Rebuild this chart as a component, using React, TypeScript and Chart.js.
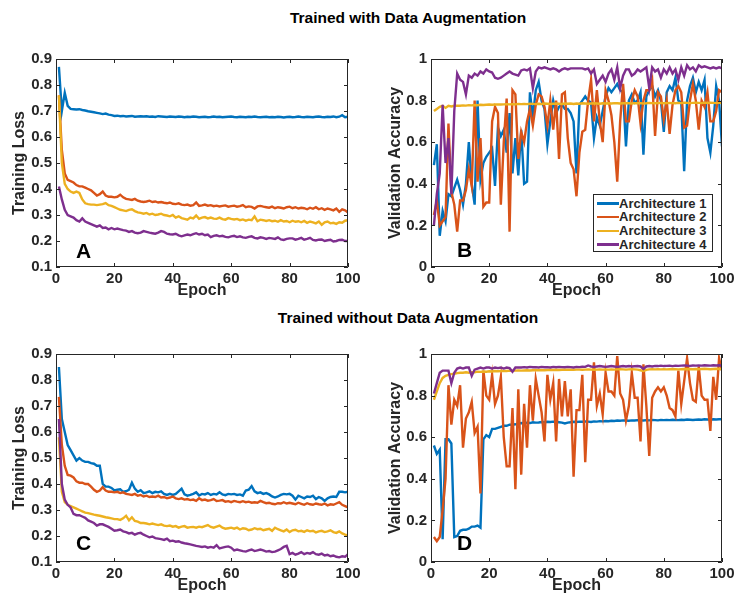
import React, { useEffect, useRef } from "react";
import { Chart, registerables } from "chart.js";

Chart.register(...registerables);

const FONT = "'Liberation Sans', Arial, Helvetica, sans-serif";
const INK = "#262626";

const NAMES = ["Architecture 1", "Architecture 2", "Architecture 3", "Architecture 4"];
const COLORS = ["#0072BD", "#D95319", "#EDB120", "#7E2F8E"];

const EPOCHS = [
  1, 2, 3, 4, 5, 6, 7, 8, 9, 10, 11, 12, 13, 14, 15, 16, 17, 18, 19, 20,
  21, 22, 23, 24, 25, 26, 27, 28, 29, 30, 31, 32, 33, 34, 35, 36, 37, 38, 39, 40,
  41, 42, 43, 44, 45, 46, 47, 48, 49, 50, 51, 52, 53, 54, 55, 56, 57, 58, 59, 60,
  61, 62, 63, 64, 65, 66, 67, 68, 69, 70, 71, 72, 73, 74, 75, 76, 77, 78, 79, 80,
  81, 82, 83, 84, 85, 86, 87, 88, 89, 90, 91, 92, 93, 94, 95, 96, 97, 98, 99, 100,
];

const X_TICKS = [0, 20, 40, 60, 80, 100];
const LOSS_TICKS = [0.1, 0.2, 0.3, 0.4, 0.5, 0.6, 0.7, 0.8, 0.9];
const ACC_TICKS = [0, 0.2, 0.4, 0.6, 0.8, 1];

// ---- Panel A: training loss, with augmentation ----
const lossAug1 = [
  0.87, 0.70, 0.77, 0.72, 0.708, 0.707, 0.706, 0.707, 0.704, 0.702,
  0.699, 0.697, 0.695, 0.693, 0.691, 0.688, 0.690, 0.686, 0.684, 0.681,
  0.682, 0.680, 0.681, 0.679, 0.680, 0.681, 0.678, 0.679, 0.680, 0.679,
  0.680, 0.678, 0.679, 0.677, 0.680, 0.679, 0.678, 0.677, 0.679, 0.678,
  0.677, 0.679, 0.678, 0.676, 0.678, 0.677, 0.679, 0.678, 0.676, 0.677,
  0.678, 0.676, 0.677, 0.679, 0.677, 0.678, 0.676, 0.677, 0.678, 0.679,
  0.677, 0.676, 0.678, 0.677, 0.676, 0.678, 0.677, 0.679, 0.677, 0.676,
  0.677, 0.678, 0.676, 0.677, 0.676, 0.678, 0.677, 0.675, 0.677, 0.678,
  0.676, 0.677, 0.679, 0.677, 0.676, 0.678, 0.677, 0.676, 0.678, 0.679,
  0.677, 0.676, 0.678, 0.677, 0.679, 0.676, 0.678, 0.684, 0.676, 0.678,
];
const lossAug2 = [
  0.76, 0.55, 0.46, 0.435, 0.43, 0.425, 0.415, 0.41, 0.41, 0.405,
  0.40, 0.395, 0.385, 0.375, 0.38, 0.39, 0.375, 0.37, 0.37, 0.368,
  0.37, 0.378, 0.368, 0.362, 0.36, 0.358, 0.362, 0.355, 0.352, 0.35,
  0.352, 0.355, 0.35, 0.352, 0.348, 0.35, 0.347, 0.345, 0.348, 0.343,
  0.342, 0.345, 0.34, 0.338, 0.34, 0.336, 0.338, 0.348, 0.335, 0.337,
  0.34, 0.336, 0.338, 0.334, 0.336, 0.333, 0.335, 0.337, 0.332, 0.334,
  0.336, 0.332, 0.334, 0.338, 0.33, 0.333, 0.331, 0.325, 0.333, 0.335,
  0.332, 0.33, 0.328, 0.332, 0.326, 0.33, 0.328, 0.325, 0.33, 0.332,
  0.326, 0.33, 0.325, 0.328, 0.326, 0.322, 0.328, 0.324, 0.33, 0.322,
  0.326, 0.32, 0.325, 0.322, 0.318, 0.325, 0.312, 0.322, 0.318, 0.31,
];
const lossAug3 = [
  0.76, 0.50, 0.42, 0.40, 0.39, 0.385, 0.39, 0.385, 0.36, 0.345,
  0.342, 0.34, 0.34, 0.338, 0.34, 0.342, 0.346, 0.338, 0.335, 0.33,
  0.325, 0.32, 0.318, 0.315, 0.32, 0.322, 0.315, 0.31, 0.308, 0.305,
  0.308, 0.302, 0.305, 0.30, 0.302, 0.305, 0.30, 0.298, 0.295, 0.30,
  0.29, 0.295, 0.288, 0.285, 0.282, 0.29, 0.287, 0.298, 0.285, 0.29,
  0.292, 0.287, 0.29, 0.286, 0.285, 0.29, 0.284, 0.282, 0.288, 0.285,
  0.283, 0.285, 0.28, 0.283, 0.278, 0.282, 0.28, 0.295, 0.276, 0.282,
  0.28, 0.277, 0.28, 0.276, 0.278, 0.274, 0.28, 0.275, 0.277, 0.272,
  0.278, 0.274, 0.276, 0.272, 0.277, 0.27, 0.275, 0.272, 0.268, 0.275,
  0.262, 0.272, 0.275, 0.268, 0.27, 0.266, 0.272, 0.27, 0.278, 0.28,
];
const lossAug4 = [
  0.41, 0.36, 0.32, 0.30, 0.295, 0.29, 0.28, 0.275, 0.287, 0.275,
  0.27, 0.265, 0.26, 0.255, 0.26, 0.25, 0.252, 0.245, 0.25, 0.245,
  0.248, 0.245, 0.242, 0.24, 0.235, 0.238, 0.232, 0.23, 0.232, 0.238,
  0.235, 0.232, 0.23, 0.228, 0.232, 0.238, 0.235, 0.228, 0.226, 0.225,
  0.228, 0.222, 0.218, 0.222, 0.225, 0.222, 0.226, 0.23, 0.225, 0.228,
  0.222, 0.225, 0.215, 0.22, 0.222, 0.218, 0.22, 0.216, 0.214, 0.218,
  0.22, 0.215, 0.218, 0.214, 0.212, 0.216, 0.218, 0.212, 0.21, 0.214,
  0.212, 0.208, 0.212, 0.21, 0.208, 0.214, 0.206, 0.204, 0.208, 0.21,
  0.21, 0.205, 0.208, 0.212, 0.205, 0.208, 0.212, 0.204, 0.202, 0.205,
  0.206, 0.2, 0.203, 0.205, 0.198, 0.2, 0.204, 0.205, 0.2, 0.2,
];

// ---- Panel B: validation accuracy, with augmentation ----
const accAug1 = [
  0.49, 0.59, 0.15, 0.27, 0.22, 0.35, 0.34, 0.38, 0.42, 0.37,
  0.30, 0.40, 0.60, 0.40, 0.30, 0.80, 0.42, 0.50, 0.53, 0.55,
  0.57, 0.39, 0.67, 0.63, 0.66, 0.55, 0.74, 0.45, 0.62, 0.44,
  0.66, 0.40, 0.41, 0.84, 0.72, 0.85, 0.89, 0.80, 0.76, 0.59,
  0.70, 0.80, 0.74, 0.77, 0.78, 0.76, 0.76, 0.74, 0.70, 0.45,
  0.78, 0.80, 0.82, 0.80, 0.79, 0.62, 0.72, 0.68, 0.75, 0.82,
  0.86, 0.84, 0.86, 0.88, 0.85, 0.84, 0.58, 0.80, 0.83, 0.79,
  0.80, 0.84, 0.54, 0.82, 0.85, 0.87, 0.82, 0.85, 0.80, 0.65,
  0.84, 0.87, 0.85, 0.91, 0.80, 0.79, 0.46, 0.80, 0.87, 0.91,
  0.84, 0.89, 0.85, 0.90, 0.62, 0.55, 0.68, 0.87, 0.80, 0.58,
];
const accAug2 = [
  0.25, 0.32, 0.20, 0.22, 0.24, 0.69, 0.36, 0.30, 0.17, 0.32,
  0.32, 0.37, 0.47, 0.39, 0.80, 0.41, 0.62, 0.29, 0.31, 0.31,
  0.70, 0.77, 0.74, 0.30, 0.60, 0.81, 0.17, 0.85, 0.83, 0.52,
  0.65, 0.60, 0.70, 0.76, 0.68, 0.78, 0.83, 0.82, 0.77, 0.68,
  0.80, 0.66, 0.80, 0.52, 0.83, 0.84, 0.62, 0.50, 0.47, 0.34,
  0.55, 0.65, 0.66, 0.80, 0.90, 0.70, 0.85, 0.70, 0.60, 0.85,
  0.80, 0.73, 0.60, 0.41, 0.70, 0.88, 0.70, 0.70, 0.80, 0.85,
  0.82, 0.69, 0.80, 0.85, 0.85, 0.90, 0.63, 0.84, 0.82, 0.71,
  0.80, 0.64, 0.78, 0.85, 0.87, 0.84, 0.67, 0.68, 0.80, 0.88,
  0.80, 0.66, 0.80, 0.77, 0.84, 0.70, 0.70, 0.75, 0.85, 0.84,
];
const accAug3 = [
  0.75, 0.76, 0.77, 0.775, 0.765, 0.775, 0.772, 0.775, 0.776, 0.775,
  0.777, 0.776, 0.778, 0.777, 0.779, 0.778, 0.78, 0.779, 0.78, 0.781,
  0.78, 0.781, 0.782, 0.781, 0.782, 0.783, 0.782, 0.783, 0.782, 0.784,
  0.783, 0.784, 0.783, 0.785, 0.784, 0.783, 0.785, 0.784, 0.786, 0.785,
  0.784, 0.785, 0.786, 0.785, 0.784, 0.786, 0.785, 0.786, 0.784, 0.786,
  0.785, 0.787, 0.786, 0.785, 0.786, 0.787, 0.786, 0.785, 0.787, 0.786,
  0.787, 0.786, 0.788, 0.787, 0.786, 0.787, 0.788, 0.787, 0.786, 0.788,
  0.787, 0.788, 0.786, 0.787, 0.789, 0.788, 0.787, 0.788, 0.789, 0.787,
  0.788, 0.789, 0.788, 0.787, 0.789, 0.788, 0.79, 0.789, 0.788, 0.789,
  0.79, 0.789, 0.788, 0.79, 0.789, 0.79, 0.789, 0.788, 0.79, 0.789,
];
const accAug4 = [
  0.20, 0.35, 0.45, 0.78, 0.50, 0.62, 0.35, 0.75, 0.93, 0.90,
  0.89, 0.83, 0.92, 0.91, 0.93, 0.92, 0.94, 0.93, 0.95, 0.94,
  0.935, 0.91, 0.905, 0.91, 0.92, 0.93, 0.94, 0.93, 0.925, 0.92,
  0.945, 0.95, 0.945, 0.955, 0.86, 0.94, 0.96, 0.955, 0.96, 0.955,
  0.95, 0.955, 0.95, 0.94, 0.95, 0.955, 0.95, 0.955, 0.955, 0.955,
  0.955, 0.955, 0.95, 0.955, 0.93, 0.95, 0.88, 0.90, 0.92, 0.89,
  0.93, 0.95, 0.90, 0.96, 0.86, 0.92, 0.95, 0.95, 0.92, 0.93,
  0.95, 0.94, 0.95, 0.96, 0.86, 0.96, 0.94, 0.95, 0.91, 0.95,
  0.93, 0.96, 0.93, 0.95, 0.90, 0.96, 0.92, 0.97, 0.95, 0.96,
  0.94, 0.97, 0.96, 0.965, 0.96, 0.955, 0.96, 0.955, 0.96, 0.955,
];

// ---- Panel C: training loss, without augmentation ----
const lossRaw1 = [
  0.85, 0.65, 0.60, 0.55, 0.53, 0.51, 0.49, 0.50, 0.49, 0.485,
  0.485, 0.48, 0.478, 0.47, 0.47, 0.40, 0.39, 0.39, 0.385, 0.375,
  0.378, 0.38, 0.37, 0.372, 0.378, 0.405, 0.382, 0.37, 0.376, 0.365,
  0.368, 0.372, 0.365, 0.37, 0.368, 0.372, 0.362, 0.358, 0.362, 0.358,
  0.362, 0.372, 0.382, 0.36, 0.355, 0.358, 0.362, 0.368, 0.356, 0.362,
  0.36, 0.365, 0.358, 0.362, 0.36, 0.368, 0.36, 0.357, 0.362, 0.36,
  0.362, 0.358, 0.36, 0.355, 0.375, 0.378, 0.392, 0.372, 0.365, 0.368,
  0.362, 0.365, 0.36, 0.352, 0.348, 0.352, 0.358, 0.362, 0.36, 0.362,
  0.355, 0.34, 0.355, 0.35, 0.345, 0.352, 0.35, 0.355, 0.342, 0.35,
  0.345, 0.335, 0.345, 0.35, 0.352, 0.35, 0.37, 0.37, 0.368, 0.37,
];
const lossRaw2 = [
  0.735, 0.55, 0.47, 0.435, 0.432, 0.425, 0.41, 0.405, 0.405, 0.40,
  0.40, 0.39, 0.378, 0.37, 0.375, 0.388, 0.375, 0.37, 0.37, 0.368,
  0.37, 0.365, 0.368, 0.362, 0.36, 0.358, 0.362, 0.355, 0.358, 0.352,
  0.355, 0.35, 0.352, 0.35, 0.355, 0.348, 0.35, 0.345, 0.348, 0.352,
  0.345, 0.342, 0.345, 0.34, 0.342, 0.338, 0.34, 0.335, 0.345, 0.338,
  0.34, 0.336, 0.338, 0.342, 0.335, 0.336, 0.338, 0.332, 0.334, 0.33,
  0.335, 0.332, 0.33, 0.334, 0.33, 0.332, 0.328, 0.33, 0.328, 0.335,
  0.33, 0.326, 0.328, 0.324, 0.322, 0.326, 0.325, 0.33, 0.325, 0.328,
  0.325, 0.322, 0.328, 0.324, 0.32, 0.326, 0.322, 0.32, 0.325, 0.322,
  0.32, 0.325, 0.318, 0.322, 0.32, 0.325, 0.33, 0.32, 0.315, 0.31,
];
const lossRaw3 = [
  0.58, 0.37, 0.33, 0.32, 0.315, 0.31, 0.305, 0.30, 0.295, 0.29,
  0.288, 0.285, 0.282, 0.28, 0.278, 0.275, 0.272, 0.27, 0.268, 0.265,
  0.265, 0.262, 0.268, 0.278, 0.26, 0.272, 0.258, 0.255, 0.25, 0.25,
  0.248, 0.245, 0.248, 0.245, 0.242, 0.245, 0.24, 0.238, 0.24, 0.236,
  0.238, 0.232, 0.236, 0.238, 0.232, 0.234, 0.235, 0.232, 0.236, 0.234,
  0.238, 0.242, 0.235, 0.232, 0.236, 0.24, 0.232, 0.228, 0.23, 0.232,
  0.228, 0.232, 0.225, 0.23, 0.228, 0.222, 0.225, 0.23, 0.226, 0.228,
  0.222, 0.225, 0.228, 0.22, 0.232, 0.226, 0.222, 0.218, 0.225, 0.215,
  0.222, 0.224, 0.218, 0.22, 0.216, 0.222, 0.218, 0.22, 0.214, 0.218,
  0.22, 0.215, 0.218, 0.222, 0.215, 0.212, 0.218, 0.21, 0.205, 0.202,
];
const lossRaw4 = [
  0.65, 0.40, 0.34, 0.32, 0.31, 0.285, 0.28, 0.28, 0.275, 0.27,
  0.26, 0.255, 0.25, 0.24, 0.245, 0.245, 0.24, 0.235, 0.228, 0.22,
  0.222, 0.225, 0.218, 0.215, 0.21, 0.212, 0.205, 0.21, 0.212, 0.205,
  0.2, 0.195, 0.198, 0.192, 0.19, 0.188, 0.185, 0.19, 0.18, 0.182,
  0.178, 0.18, 0.175, 0.172, 0.17, 0.168, 0.165, 0.162, 0.16, 0.158,
  0.16, 0.155, 0.158, 0.155, 0.165, 0.152, 0.155, 0.158, 0.16, 0.155,
  0.145, 0.148, 0.145, 0.142, 0.14, 0.145, 0.148, 0.142, 0.145, 0.148,
  0.145, 0.14, 0.142, 0.138, 0.14, 0.145, 0.15, 0.158, 0.162, 0.13,
  0.135, 0.128, 0.132, 0.138, 0.13, 0.135, 0.132, 0.138, 0.13, 0.128,
  0.132, 0.125, 0.128, 0.122, 0.125, 0.12, 0.118, 0.122, 0.12, 0.13,
];

// ---- Panel D: validation accuracy, without augmentation ----
const accRaw1 = [
  0.56, 0.52, 0.54, 0.11, 0.59, 0.59, 0.57, 0.12, 0.125, 0.15,
  0.155, 0.155, 0.16, 0.17, 0.17, 0.175, 0.165, 0.59, 0.61, 0.60,
  0.64, 0.64, 0.645, 0.65, 0.655, 0.655, 0.66, 0.66, 0.662, 0.665,
  0.668, 0.666, 0.67, 0.668, 0.672, 0.67, 0.671, 0.673, 0.672, 0.674,
  0.673, 0.675, 0.674, 0.672, 0.67, 0.666, 0.67, 0.672, 0.674, 0.673,
  0.675, 0.674, 0.676, 0.675, 0.673, 0.676, 0.675, 0.677, 0.676, 0.678,
  0.677, 0.679, 0.678, 0.68, 0.679, 0.681, 0.68, 0.679, 0.681, 0.68,
  0.682, 0.681, 0.68, 0.682, 0.681, 0.683, 0.682, 0.681, 0.683, 0.682,
  0.683, 0.682, 0.684, 0.683, 0.682, 0.684, 0.683, 0.685, 0.684, 0.683,
  0.684, 0.685, 0.684, 0.686, 0.685, 0.684, 0.686, 0.685, 0.686, 0.686,
];
const accRaw2 = [
  0.12, 0.10, 0.12, 0.25, 0.40, 0.85, 0.66, 0.78, 0.75, 0.85,
  0.55, 0.69, 0.72, 0.77, 0.62, 0.65, 0.33, 0.92, 0.80, 0.78,
  0.90, 0.76, 0.80, 0.89, 0.60, 0.46, 0.46, 0.74, 0.35, 0.83,
  0.42, 0.76, 0.55, 0.85, 0.68, 0.88, 0.80, 0.72, 0.58, 0.90,
  0.78, 0.86, 0.58, 0.88, 0.70, 0.87, 0.70, 0.83, 0.41, 0.73,
  0.73, 0.90, 0.48, 0.78, 0.78, 0.96, 0.75, 0.81, 0.71, 0.91,
  0.82, 0.82, 0.80, 0.99, 0.81, 0.78, 0.68, 0.75, 0.91, 0.79,
  0.79, 0.58, 0.95, 0.75, 0.51, 0.79, 0.82, 0.84, 0.82, 0.84,
  0.80, 0.74, 0.73, 0.70, 0.92, 0.76, 0.87, 0.98, 0.86, 0.78,
  0.77, 0.94, 0.80, 0.78, 0.78, 0.63, 0.89, 0.78, 0.98, 0.92,
];
const accRaw3 = [
  0.78, 0.82, 0.86, 0.885, 0.895, 0.90, 0.903, 0.905, 0.908, 0.91,
  0.91, 0.912, 0.91, 0.913, 0.912, 0.915, 0.914, 0.916, 0.915, 0.917,
  0.916, 0.918, 0.917, 0.918, 0.919, 0.918, 0.92, 0.919, 0.92, 0.921,
  0.92, 0.921, 0.922, 0.921, 0.922, 0.923, 0.922, 0.923, 0.922, 0.923,
  0.924, 0.923, 0.924, 0.923, 0.924, 0.925, 0.924, 0.925, 0.924, 0.925,
  0.925, 0.924, 0.925, 0.926, 0.925, 0.924, 0.925, 0.926, 0.925, 0.926,
  0.925, 0.926, 0.925, 0.926, 0.927, 0.926, 0.925, 0.926, 0.927, 0.926,
  0.925, 0.922, 0.918, 0.924, 0.926, 0.927, 0.926, 0.927, 0.926, 0.927,
  0.926, 0.927, 0.928, 0.927, 0.926, 0.927, 0.928, 0.927, 0.928, 0.927,
  0.928, 0.927, 0.928, 0.929, 0.928, 0.927, 0.928, 0.929, 0.928, 0.928,
];
const accRaw4 = [
  0.81, 0.86, 0.91, 0.92, 0.92, 0.92, 0.86, 0.91, 0.93, 0.935,
  0.93, 0.935, 0.935, 0.895, 0.925, 0.93, 0.935, 0.93, 0.935, 0.935,
  0.93, 0.935, 0.932, 0.935, 0.93, 0.935, 0.932, 0.915, 0.935, 0.935,
  0.935, 0.937, 0.935, 0.938, 0.936, 0.937, 0.935, 0.938, 0.936, 0.937,
  0.935, 0.938, 0.936, 0.938, 0.937, 0.936, 0.938, 0.937, 0.935, 0.938,
  0.937, 0.939, 0.938, 0.945, 0.94, 0.938, 0.94, 0.942, 0.94, 0.938,
  0.94, 0.942, 0.94, 0.938, 0.94, 0.942, 0.94, 0.942, 0.94, 0.941,
  0.942, 0.94, 0.928, 0.94, 0.942, 0.94, 0.943, 0.942, 0.944, 0.942,
  0.943, 0.944, 0.942, 0.944, 0.943, 0.944, 0.945, 0.944, 0.943, 0.945,
  0.944, 0.945, 0.944, 0.946, 0.945, 0.944, 0.946, 0.945, 0.946, 0.945,
];

const framePlugin = {
  id: "matlabFrame",
  afterDatasetsDraw(chart: any) {
    const { ctx, chartArea: a, scales } = chart;
    const L = 4;
    ctx.save();
    ctx.strokeStyle = INK;
    ctx.lineWidth = 1;
    ctx.beginPath();
    ctx.rect(a.left + 0.5, a.top + 0.5, a.right - a.left - 1, a.bottom - a.top - 1);
    for (const t of scales.x.ticks) {
      const px = Math.round(scales.x.getPixelForValue(t.value)) + 0.5;
      ctx.moveTo(px, a.bottom);
      ctx.lineTo(px, a.bottom - L);
      ctx.moveTo(px, a.top);
      ctx.lineTo(px, a.top + L);
    }
    for (const t of scales.y.ticks) {
      const py = Math.round(scales.y.getPixelForValue(t.value)) + 0.5;
      ctx.moveTo(a.left, py);
      ctx.lineTo(a.left + L, py);
      ctx.moveTo(a.right, py);
      ctx.lineTo(a.right - L, py);
    }
    ctx.stroke();
    ctx.restore();
  },
};

type PanelProps = {
  left: number;
  top: number;
  width: number;
  height: number;
  yAxisWidth: number;
  padTop: number;
  padRight: number;
  yTicks: number[];
  yTitle: string;
  yTitlePad: number;
  decimals: boolean;
  series: number[][];
};

function Panel(p: PanelProps) {
  const ref = useRef<HTMLCanvasElement>(null);
  useEffect(() => {
    if (!ref.current) return;
    const tickFont = { family: FONT, size: 15, weight: "bold" as const };
    const titleFont = { family: FONT, size: 16, weight: "bold" as const };
    const yStep = Math.round((p.yTicks[1] - p.yTicks[0]) * 10) / 10;
    const chart = new Chart(ref.current, {
      type: "line",
      data: {
        datasets: p.series.map((s, i) => ({
          label: NAMES[i],
          data: EPOCHS.map((e, j) => ({ x: e, y: s[j] })),
          borderColor: COLORS[i],
          backgroundColor: COLORS[i],
          borderWidth: 2.4,
          pointRadius: 0,
          tension: 0,
          fill: false,
          order: 4 - i,
        })),
      },
      options: {
        responsive: false,
        animation: false,
        events: [],
        layout: { padding: { top: p.padTop, right: p.padRight, left: 0, bottom: 0 } },
        plugins: { legend: { display: false }, tooltip: { enabled: false } },
        scales: {
          x: {
            type: "linear",
            min: X_TICKS[0],
            max: X_TICKS[X_TICKS.length - 1],
            afterBuildTicks: (s: any) => {
              s.ticks = X_TICKS.map((v) => ({ value: v }));
            },
            ticks: { color: INK, font: tickFont, padding: 3, maxRotation: 0, autoSkip: false },
            grid: { display: false, drawTicks: false },
            border: { display: false },
            title: {
              display: true,
              text: "Epoch",
              color: INK,
              font: titleFont,
              padding: { top: 0, bottom: 0 },
            },
            afterFit: (s: any) => {
              s.height = 33;
              s.paddingLeft = 0;
              s.paddingRight = 0;
            },
          },
          y: {
            type: "linear",
            min: p.yTicks[0],
            max: p.yTicks[p.yTicks.length - 1],
            afterBuildTicks: (s: any) => {
              s.ticks = p.yTicks.map((v) => ({ value: v }));
            },
            ticks: {
              stepSize: yStep,
              color: INK,
              font: tickFont,
              padding: 4,
              autoSkip: false,
              callback: (v: any) => (p.decimals ? Number(v).toFixed(1) : String(Math.round(Number(v) * 10) / 10)),
            },
            grid: { display: false, drawTicks: false },
            border: { display: false },
            title: {
              display: true,
              text: p.yTitle,
              color: INK,
              font: titleFont,
              padding: { top: p.yTitlePad, bottom: 0 },
            },
            afterFit: (s: any) => {
              s.width = p.yAxisWidth;
              s.paddingTop = 0;
              s.paddingBottom = 0;
            },
          },
        },
      } as any,
      plugins: [framePlugin],
    });
    return () => chart.destroy();
  }, []);
  return (
    <canvas
      ref={ref}
      width={p.width}
      height={p.height}
      style={{ position: "absolute", left: p.left, top: p.top, width: p.width, height: p.height }}
    />
  );
}

const textBase: React.CSSProperties = {
  position: "absolute",
  fontFamily: FONT,
  fontWeight: "bold",
  lineHeight: 1,
  whiteSpace: "nowrap",
  color: "#000",
};

function Legend() {
  return (
    <div
      style={{
        position: "absolute",
        left: 593,
        top: 194,
        width: 120,
        height: 58,
        border: `1px solid ${INK}`,
        background: "#fff",
        boxSizing: "border-box",
      }}
    >
      {NAMES.map((n, i) => (
        <div key={n} style={{ position: "absolute", left: 0, top: 1 + i * 13.8, height: 14, width: 118 }}>
          <div
            style={{
              position: "absolute",
              left: 3,
              top: 6,
              width: 22,
              height: 2.5,
              background: COLORS[i],
            }}
          />
          <div
            style={{
              ...textBase,
              left: 25,
              top: 0.5,
              fontSize: 13,
              color: INK,
            }}
          >
            {n}
          </div>
        </div>
      ))}
    </div>
  );
}

export default function App() {
  return (
    <div
      style={{
        position: "absolute",
        left: 0,
        top: 0,
        width: 735,
        height: 595,
        background: "#fff",
        overflow: "hidden",
      }}
    >
      <div style={{ ...textBase, left: 208, width: 400, top: 10, fontSize: 15.5, textAlign: "center" }}>
        Trained with Data Augmentation
      </div>
      <div style={{ ...textBase, left: 208, width: 400, top: 310, fontSize: 15.5, textAlign: "center" }}>
        Trained without Data Augmentation
      </div>

      <Panel
        left={0}
        top={40}
        width={366}
        height={260}
        yAxisWidth={56}
        padTop={19}
        padRight={18}
        yTicks={LOSS_TICKS}
        yTitle="Training Loss"
        yTitlePad={10}
        decimals={true}
        series={[lossAug1, lossAug2, lossAug3, lossAug4]}
      />
      <Panel
        left={370}
        top={40}
        width={365}
        height={260}
        yAxisWidth={61}
        padTop={19}
        padRight={13}
        yTicks={ACC_TICKS}
        yTitle="Validation Accuracy"
        yTitlePad={16}
        decimals={false}
        series={[accAug1, accAug2, accAug3, accAug4]}
      />
      <Panel
        left={0}
        top={335}
        width={366}
        height={260}
        yAxisWidth={56}
        padTop={19}
        padRight={18}
        yTicks={LOSS_TICKS}
        yTitle="Training Loss"
        yTitlePad={10}
        decimals={true}
        series={[lossRaw1, lossRaw2, lossRaw3, lossRaw4]}
      />
      <Panel
        left={370}
        top={335}
        width={365}
        height={260}
        yAxisWidth={61}
        padTop={19}
        padRight={13}
        yTicks={ACC_TICKS}
        yTitle="Validation Accuracy"
        yTitlePad={16}
        decimals={false}
        series={[accRaw1, accRaw2, accRaw3, accRaw4]}
      />

      <Legend />

      <div style={{ ...textBase, left: 76, top: 240, fontSize: 21 }}>A</div>
      <div style={{ ...textBase, left: 457, top: 239, fontSize: 21 }}>B</div>
      <div style={{ ...textBase, left: 76, top: 532, fontSize: 21 }}>C</div>
      <div style={{ ...textBase, left: 457, top: 532, fontSize: 21 }}>D</div>
    </div>
  );
}
